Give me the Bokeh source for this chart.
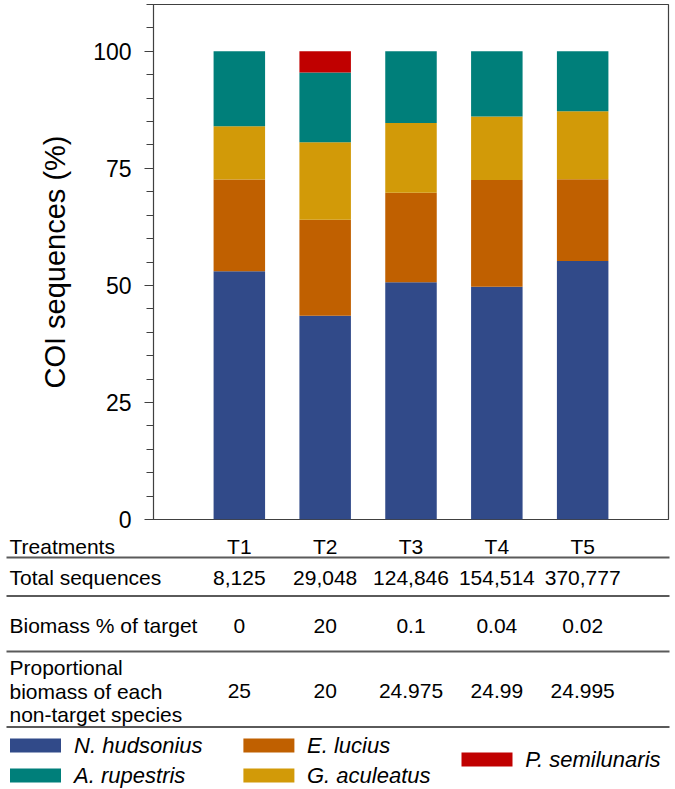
import numpy as np
from bokeh.plotting import figure
from bokeh.models import Range1d, FixedTicker, ColumnDataSource
from bokeh.layouts import column
from bokeh.core.properties import value
from bokeh.embed import file_html
from bokeh.resources import INLINE

# ---------------- data ----------------
treatments = ["T1", "T2", "T3", "T4", "T5"]
species = ["N. hudsonius", "E. lucius", "G. aculeatus", "A. rupestris", "P. semilunaris"]
colors = ["#314A89", "#C06000", "#D29A08", "#007F7A", "#C00000"]
n_hudsonius = [53.0, 43.5, 50.7, 49.7, 55.2]
e_lucius = [19.6, 20.5, 19.1, 22.8, 17.5]
g_aculeatus = [11.4, 16.6, 14.9, 13.6, 14.5]
a_rupestris = [16.0, 14.9, 15.3, 13.9, 12.8]
p_semilunaris = [0.0, 4.5, 0.0, 0.0, 0.0]
y_ticks = [0, 25, 50, 75, 100]
y_minor_ticks = [5, 10, 15, 20, 30, 35, 40, 45, 55, 60, 65, 70, 80, 85, 90, 95, 105, 110]
row_labels = ["Treatments", "Total sequences", "Biomass % of target"]
prop_label = ["Proportional", "biomass of each", "non-target species"]
total_sequences = ["8,125", "29,048", "124,846", "154,514", "370,777"]
biomass_target = ["0", "20", "0.1", "0.04", "0.02"]
proportional_biomass = ["25", "20", "24.975", "24.99", "24.995"]
legend_cols = [["N. hudsonius", "A. rupestris"], ["E. lucius", "G. aculeatus"], ["P. semilunaris"]]

# ---------------- layout constants ----------------
W = 675
A_H = 533
B_H = 255
FL, FR = 153, 7
FONT = "Liberation Sans"
TXT = "black"

keys = ["n_hudsonius", "e_lucius", "g_aculeatus", "a_rupestris", "p_semilunaris"]
x_pos = np.arange(1, len(treatments) + 1)
src = ColumnDataSource(dict(x=x_pos, treatment=treatments, n_hudsonius=n_hudsonius,
                            e_lucius=e_lucius, g_aculeatus=g_aculeatus,
                            a_rupestris=a_rupestris, p_semilunaris=p_semilunaris))

# ---------------- chart ----------------
p = figure(width=W, height=A_H, x_range=Range1d(0, len(treatments) + 1),
           y_range=Range1d(0, 110), output_backend="svg", toolbar_location=None,
           x_axis_location=None, min_border_left=FL, min_border_right=FR,
           min_border_top=4, min_border_bottom=14)
p.frame_align = False
p.vbar_stack(keys, x="x", width=0.6, color=colors, line_color=None, source=src)

p.xgrid.visible = False
p.ygrid.visible = False
p.outline_line_color = "#404040"
p.outline_line_width = 1.2
ax = p.yaxis[0]
ax.ticker = FixedTicker(ticks=y_ticks, minor_ticks=y_minor_ticks)
ax.axis_label = "COI sequences (%)"
ax.axis_label_text_font = FONT
ax.axis_label_text_font_style = "normal"
ax.axis_label_text_font_size = "29px"
ax.axis_label_text_color = TXT
ax.axis_label_standoff = 19
ax.major_label_text_font = FONT
ax.major_label_text_font_size = "23px"
ax.major_label_text_color = TXT
ax.major_label_standoff = 13
ax.major_tick_in = 0
ax.major_tick_out = 9
ax.minor_tick_in = 0
ax.minor_tick_out = 7
ax.axis_line_color = "#404040"
ax.major_tick_line_color = "#404040"
ax.minor_tick_line_color = "#404040"

# ---------------- table + legend ----------------
ppu = (W - FL - FR) / (len(treatments) + 1)
b = figure(width=W, height=B_H, x_range=Range1d(-FL / ppu, (W - FL) / ppu),
           y_range=Range1d(A_H + B_H, A_H), output_backend="svg",
           toolbar_location=None, x_axis_location=None, y_axis_location=None,
           min_border=0, min_border_left=0, min_border_right=0,
           min_border_top=0, min_border_bottom=0, outline_line_color=None)
b.frame_align = False
b.grid.visible = False

def ux(px):
    return (px - FL) / ppu

common = dict(text_font=value(FONT), text_color=TXT, text_baseline="middle")
label_x = ux(9)
b.text(x=[label_x] * 3, y=[545.5, 577, 625], text=row_labels, text_align="left",
       text_font_size="21px", **common)
b.text(x=[label_x] * 3, y=[666.5, 690.5, 714], text=prop_label, text_align="left",
       text_font_size="21px", **common)
for yy, vals in zip([545.5, 577, 625, 690.5],
                    [treatments, total_sequences, biomass_target, proportional_biomass]):
    b.text(x=x_pos, y=[yy] * len(vals), text=vals, text_align="center",
           text_font_size="21px", **common)

line_y = [557, 595.5, 651, 726.5]
b.segment(x0=[ux(6)] * 4, x1=[ux(669)] * 4, y0=line_y, y1=line_y,
          line_color="#5a5a5a", line_width=2)

# legend
col_patch_x = [35, 268.4, 486.5]
col_text_x = [73.6, 306.5, 524.7]
col_rows = [[745, 775], [745, 775], [759]]
cmap = dict(zip(species, colors))
for names, px, tx, ys in zip(legend_cols, col_patch_x, col_text_x, col_rows):
    b.rect(x=[ux(px)] * len(names), y=ys, width=51, height=14,
           width_units="screen", height_units="screen",
           fill_color=[cmap[n] for n in names], line_color=None)
    b.text(x=[ux(tx)] * len(names), y=ys, text=names, text_align="left",
           text_font_size="22px", text_font_style="italic", **common)

layout = column(p, b, spacing=0)
open("out.html", "w").write(file_html(layout, INLINE))
